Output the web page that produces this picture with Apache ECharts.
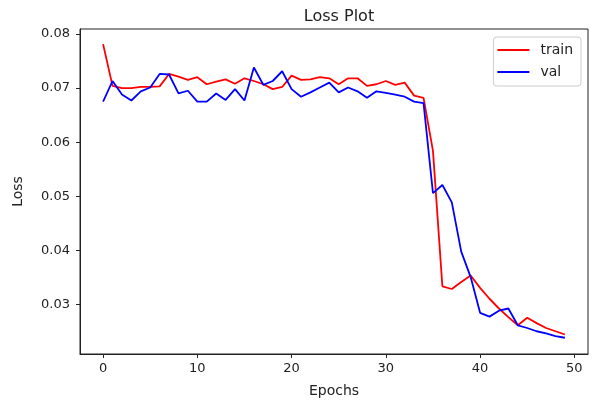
<!DOCTYPE html>
<html>
<head>
<meta charset="utf-8">
<script src="https://cdn.jsdelivr.net/npm/echarts@6/dist/echarts.min.js"></script>
<style>
  html, body { margin: 0; padding: 0; background: #fff; }
  #chart { width: 593px; height: 403px; }
</style>
</head>
<body>
<div id="chart"></div>
<script>
// 数据
var epochs = [];
for (var i = 0; i < 50; i++) epochs.push(i);

var trainLoss = [0.0781, 0.0704, 0.0700, 0.0700, 0.0702, 0.0702, 0.0703, 0.0726, 0.0721, 0.0715,
                 0.0720, 0.0707, 0.0712, 0.0716, 0.0708, 0.0718, 0.0713, 0.0707, 0.0698, 0.0702,
                 0.0723, 0.0715, 0.0716, 0.0720, 0.0718, 0.0707, 0.0718, 0.0718, 0.0704, 0.0707,
                 0.0713, 0.0706, 0.0710, 0.0686, 0.0682, 0.0584, 0.0334, 0.0329, 0.0342, 0.0354,
                 0.0331, 0.0311, 0.0293, 0.0277, 0.0262, 0.0276, 0.0266, 0.0257, 0.0251, 0.0245];

var valLoss = [0.0675, 0.0713, 0.0688, 0.0677, 0.0694, 0.0701, 0.0726, 0.0725, 0.0690, 0.0695,
               0.0675, 0.0675, 0.0690, 0.0678, 0.0698, 0.0677, 0.0738, 0.0706, 0.0713, 0.0731,
               0.0698, 0.0684, 0.0692, 0.0701, 0.0710, 0.0692, 0.0701, 0.0694, 0.0682, 0.0694,
               0.0691, 0.0688, 0.0684, 0.0675, 0.0672, 0.0506, 0.0521, 0.0489, 0.0398, 0.0351,
               0.0285, 0.0278, 0.0289, 0.0293, 0.0262, 0.0257, 0.0251, 0.0247, 0.0242, 0.0239];

var xTicks = [0, 10, 20, 30, 40, 50];
var yTicks = [0.03, 0.04, 0.05, 0.06, 0.07, 0.08];

function pairs(ys) {
  return epochs.map(function (x, k) { return [x, ys[k]]; });
}

var myChart = echarts.init(document.getElementById('chart'));

var font = 'DejaVu Sans';
var option = {
  animation: false,
  title: {
    text: 'Loss Plot',
    left: 334,
    textAlign: 'center',
    top: 4,
    textStyle: { fontFamily: font, fontSize: 16, fontWeight: 'normal', color: '#222' }
  },
  legend: {
    orient: 'vertical',
    right: 12,
    top: 37,
    padding: [6, 8, 7, 4],
    itemGap: 8,
    itemWidth: 32,
    itemHeight: 2,
    icon: 'rect',
    borderColor: '#ccc',
    borderWidth: 1,
    borderRadius: 3,
    textStyle: { fontFamily: font, fontSize: 14, color: '#222', lineHeight: 14, padding: [0, 0, 0, 6] },
    data: ['train', 'val']
  },
  grid: {
    left: 80, right: 5, top: 29, bottom: 49,
    show: true, borderColor: '#222', borderWidth: 1
  },
  xAxis: {
    type: 'value',
    min: -2.45,
    max: 51.45,
    name: 'Epochs',
    nameLocation: 'middle',
    nameGap: 30,
    nameTextStyle: { fontFamily: font, fontSize: 14, color: '#222' },
    axisLine: { show: true, onZero: false, lineStyle: { color: '#222' } },
    axisTick: { show: true, length: 4, customValues: xTicks, lineStyle: { color: '#222' } },
    axisLabel: { customValues: xTicks, margin: 8, fontFamily: font, fontSize: 13, color: '#222' },
    splitLine: { show: false }
  },
  yAxis: {
    type: 'value',
    min: 0.0209,
    max: 0.0809,
    name: 'Loss',
    nameLocation: 'middle',
    nameGap: 55,
    nameTextStyle: { fontFamily: font, fontSize: 14, color: '#222' },
    axisLine: { show: true, onZero: false, lineStyle: { color: '#222' } },
    axisTick: { show: true, length: 4, customValues: yTicks, lineStyle: { color: '#222' } },
    axisLabel: {
      customValues: yTicks, margin: 10, fontFamily: font, fontSize: 13, color: '#222',
      formatter: function (v) { return v.toFixed(2); }
    },
    splitLine: { show: false }
  },
  series: [
    {
      name: 'train',
      type: 'line',
      data: pairs(trainLoss),
      showSymbol: false,
      symbol: 'none',
      color: '#ff0000',
      lineStyle: { width: 1.8, color: '#ff0000' }
    },
    {
      name: 'val',
      type: 'line',
      data: pairs(valLoss),
      showSymbol: false,
      symbol: 'none',
      color: '#0000ff',
      lineStyle: { width: 1.8, color: '#0000ff' }
    }
  ]
};

myChart.setOption(option);
</script>
</body>
</html>
